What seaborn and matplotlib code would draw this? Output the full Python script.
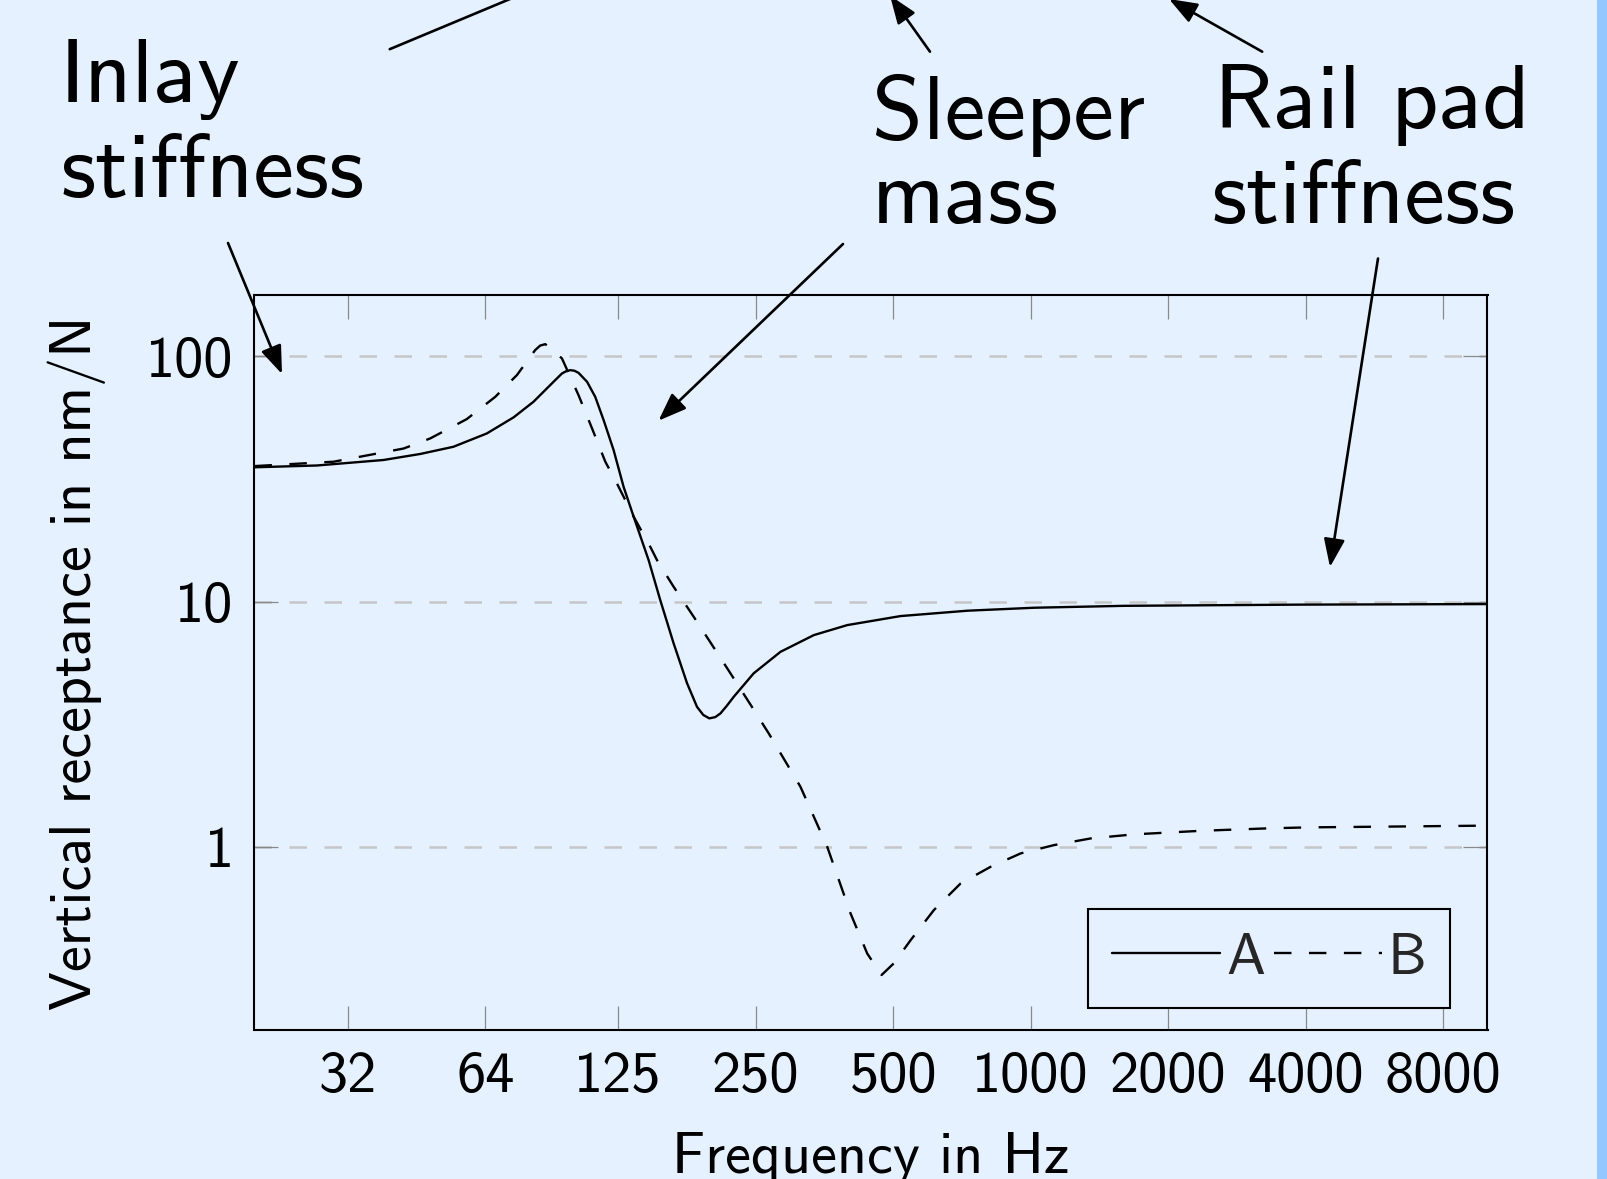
import numpy as np
import pandas as pd
import matplotlib
matplotlib.use("Agg")
import matplotlib.pyplot as plt
import seaborn as sns
from matplotlib.patches import Rectangle, FancyArrowPatch

# ---------------- data ----------------
freq_a = [20, 27.4, 38.3, 46.1, 54.5, 64.5, 73.8, 81.6, 88.8, 94.2, 96.2, 98.2,
          100.3, 102.4, 106.9, 111.4, 116.2, 122.2, 128.5, 135.2, 145.8, 154.7,
          165.4, 177.0, 186.1, 192.0, 198.0, 204.0, 209.4, 216.0, 223.9, 247.6,
          283.4, 335.2, 396.8, 519.2, 726.8, 1017, 1597, 3904, 10000]
recept_a = [35.3, 35.9, 37.8, 40.0, 42.8, 48.5, 56.4, 65.3, 76.4, 85.2, 87.0, 87.9,
            87.4, 85.7, 78.8, 68.4, 55.0, 41.5, 29.4, 22.2, 14.76, 10.1,
            6.75, 4.64, 3.72, 3.45, 3.34, 3.38, 3.50, 3.75, 4.09, 5.10,
            6.24, 7.30, 8.02, 8.73, 9.18, 9.44, 9.61, 9.72, 9.77]

freq_b = [20, 29.8, 42.4, 48.5, 58.3, 67.3, 75.1, 82.3, 84.4, 86.6, 89.3, 91.5,
          94.2, 102.4, 109.6, 117.2, 124.3, 135.2, 147.1, 152.1, 165.4, 183.0,
          200.8, 220.2, 241.5, 267.1, 313.4, 358.7, 403.4, 438.8, 471.7, 501.9,
          546.0, 614.0, 702.6, 817.4, 951.0, 1125, 1354, 1684, 2358, 3301, 4040, 10000]
recept_b = [35.7, 37.2, 42.1, 46.3, 55.5, 68.4, 84.0, 106.1, 110.7, 112.2, 107.1, 103.1,
            98.1, 69.5, 50.9, 37.2, 30.3, 22.2, 16.7, 14.76, 11.49, 8.67,
            6.65, 5.10, 3.90, 2.90, 1.757, 1.0, 0.535, 0.367, 0.300, 0.335,
            0.416, 0.552, 0.709, 0.829, 0.940, 1.016, 1.082, 1.124, 1.162, 1.189, 1.200, 1.22]

series_names = ["A", "B"]
x_ticks = [32, 64, 125, 250, 500, 1000, 2000, 4000, 8000]
x_ticklabels = ["32", "64", "125", "250", "500", "1000", "2000", "4000", "8000"]
y_ticks = [1, 10, 100]
y_ticklabels = ["1", "10", "100"]
x_label = "Frequency in Hz"
y_label = "Vertical receptance in nm/N"
notes = [("Inlay", 60, 101.7), ("stiffness", 60, 196.7),
         ("Sleeper", 872, 139.3), ("mass", 872, 222.7),
         ("Rail pad", 1214, 128.3), ("stiffness", 1211, 222.7)]

# ---------------- style ----------------
BG = "#E5F1FF"
sns.set_theme(style="white")
plt.rcParams["font.family"] = ["cmss10", "DejaVu Sans"]
plt.rcParams["axes.unicode_minus"] = False

W, H = 1608, 1179
fig = plt.figure(figsize=(W / 100, H / 100), dpi=100, facecolor=BG)


def fx(px):
    return px / W


def fy(py):
    return 1 - py / H


ax = fig.add_axes([fx(254.5), fy(1030), fx(1487.5) - fx(254.5), fy(295) - fy(1030)])
ax.set_facecolor(BG)

df = pd.concat([
    pd.DataFrame({"freq": freq_a, "value": recept_a, "series": series_names[0]}),
    pd.DataFrame({"freq": freq_b, "value": recept_b, "series": series_names[1]}),
], ignore_index=True)

sns.lineplot(data=df, x="freq", y="value", style="series",
             dashes={"A": "", "B": (7.4, 7.4)}, color="black", linewidth=1.7,
             estimator=None, sort=False, ax=ax)

ax.set_xscale("log", base=2)
ax.set_yscale("log", base=10)
ax.set_xlim(20, 10000)
ax.set_ylim(0.179, 178)
ax.set_xticks(x_ticks)
ax.set_xticklabels(x_ticklabels)
ax.set_yticks(y_ticks)
ax.set_yticklabels(y_ticklabels)
ax.minorticks_off()

FS = 42
ax.tick_params(axis="both", which="major", direction="in", length=17.5, width=0.9,
               color="#8a8a8a", labelsize=FS, labelcolor="black", pad=15,
               top=True, right=True, bottom=True, left=True)
for s in ax.spines.values():
    s.set_color("black")
    s.set_linewidth(1.5)

ax.yaxis.grid(True, linestyle=(0, (7, 7)), linewidth=1.8, color="#c6c6c6")
ax.xaxis.grid(False)
ax.set_axisbelow(True)

ax.set_xlabel(x_label, fontsize=FS, labelpad=21, color="black")
ax.set_ylabel(y_label, fontsize=FS, labelpad=29, color="black")

sns.move_legend(ax, "lower right", bbox_to_anchor=(0.9696, 0.0299), ncol=2,
                title=None, frameon=True, fontsize=FS, borderaxespad=0,
                handlelength=1.86, handletextpad=0.1, columnspacing=0.15,
                borderpad=0.4, fancybox=False, edgecolor="black", facecolor=BG,
                framealpha=1)
leg = ax.get_legend()
leg.get_frame().set_linewidth(1.5)

# ---------------- annotations ----------------
NFS = 66
for txt, px, py in notes:
    fig.text(fx(px), fy(py), txt, fontsize=NFS, ha="left", va="baseline", color="black")

arrows = [
    ((389.7, 49.2), (578.3, -29.5)),
    ((228, 243), (282, 374)),
    ((930, 51.7), (890, -4.5)),
    ((1262.2, 51.7), (1169, -1)),
    ((843, 244), (658.5, 420.7)),
    ((1378, 258.5), (1330, 567)),
]
for (sx, sy), (tx, ty) in arrows:
    fig.add_artist(FancyArrowPatch(
        (fx(sx), fy(sy)), (fx(tx), fy(ty)), transform=fig.transFigure,
        arrowstyle="-|>,head_length=0.4,head_width=0.15", mutation_scale=43,
        color="black", linewidth=1.9, shrinkA=0, shrinkB=0, clip_on=False))

# right-hand theme strip
fig.add_artist(Rectangle((fx(1597), 0), fx(W) - fx(1597), 1, transform=fig.transFigure,
                         facecolor="#94C6FF", edgecolor="none"))

fig.savefig("out.png", dpi=100, facecolor=BG)
